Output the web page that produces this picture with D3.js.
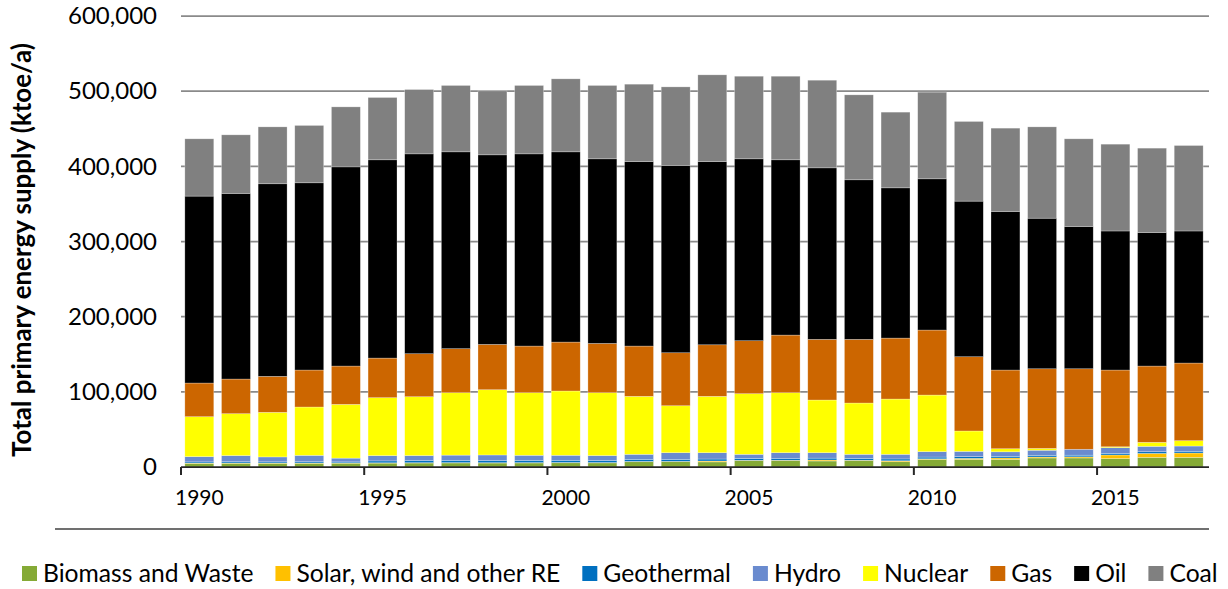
<!DOCTYPE html>
<html>
<head>
<meta charset="utf-8">
<script src="https://cdn.jsdelivr.net/npm/d3@7"></script>
<style>
  body { margin: 0; background: #fff; }
  text { font-family: Lato, "Open Sans", sans-serif; fill: #000; }
</style>
</head>
<body>
<div id="my_dataviz"></div>
<script>

// categories
var years = ["1990","1991","1992","1993","1994","1995","1996","1997","1998","1999",
             "2000","2001","2002","2003","2004","2005","2006","2007","2008","2009",
             "2010","2011","2012","2013","2014","2015","2016","2017"];

// series values, ktoe/a
var biomass = [4900,5000,5000,5000,5100,5200,5300,5400,5300,5400,
               5600,5500,7000,7100,6800,8400,8400,8000,8400,7000,
               10200,10200,10200,12000,12000,11100,12800,12800];
var solar = [400,400,400,400,400,400,400,400,400,400,
             400,400,400,400,1200,500,600,1300,600,1300,
             700,1300,1800,1300,1500,4900,5300,5800];
var geothermal = [1500,1600,1500,1600,1300,2500,3000,3000,3000,3000,
                  2900,2800,2800,2600,2600,2500,2500,2500,2400,2400,
                  2300,2300,2200,2200,2200,2200,2200,2300];
var hydro = [7000,8200,6500,8500,5000,7000,6500,7000,7300,6800,
             6700,6500,6700,8900,8400,5500,7500,7200,5500,6200,
             7200,7000,6000,6800,7900,7500,7200,7000];
var nuclear = [53100,55700,59300,64300,71500,77100,78300,83000,86800,83200,
               85500,83600,77100,62500,75000,80600,79800,70100,68200,73500,
               75300,27100,4100,2400,0,1200,5300,7100];
var gas = [44800,46100,47900,49200,51000,52700,57200,58600,60300,62100,
           65100,65600,66900,70500,68600,70500,76700,80700,84700,81100,
           86500,98800,104700,106000,107100,102100,101500,103300];
var oil = [248700,247000,256200,249100,265000,263800,265900,261900,252200,255700,
           253100,245600,245500,249200,243800,242000,233200,228200,212300,199900,
           201200,207000,211000,200300,189300,185000,177700,175700];
var coal = [76200,77900,75700,76300,79800,82900,85600,88300,85100,91000,
            97100,97600,102900,104500,115300,109900,111200,116600,113000,100700,
            115300,106000,110800,121500,116600,115500,112200,113700];

var seriesNames = ["Biomass and Waste","Solar, wind and other RE","Geothermal","Hydro","Nuclear","Gas","Oil","Coal"];
var seriesValues = [biomass, solar, geothermal, hydro, nuclear, gas, oil, coal];
var seriesColors = ["#85aa36","#ffc000","#0070c0","#6a8bcf","#ffff00","#cc6600","#000000","#808080"];

// tick labels
var yTicks = [0,100000,200000,300000,400000,500000,600000];
var xLabelYears = ["1990","1995","2000","2005","2010","2015"];

var W = 1228, H = 589;

var svg = d3.select("#my_dataviz")
  .append("svg")
  .attr("width", W)
  .attr("height", H);

// build rows for the stack
var rows = years.map(function(yr, i) {
  var r = {year: yr};
  seriesNames.forEach(function(s, j) { r[s] = seriesValues[j][i]; });
  return r;
});
var stacked = d3.stack().keys(seriesNames)(rows);

var x = d3.scaleBand()
  .domain(years)
  .range([181, 1207])
  .paddingInner(0.21)
  .paddingOuter(0.105);

var y = d3.scaleLinear()
  .domain([0, 600000])
  .range([467, 16]);

// gridlines
svg.append("g")
  .selectAll("line")
  .data(yTicks.filter(function(d) { return d > 0; }))
  .enter()
  .append("line")
  .attr("x1", 181)
  .attr("x2", 1209)
  .attr("y1", function(d) { return y(d); })
  .attr("y2", function(d) { return y(d); })
  .style("stroke", "#8a8a8a")
  .style("stroke-width", 1.75);

// y axis labels
var yAxis = svg.append("g")
  .attr("transform", "translate(157,0)")
  .call(d3.axisLeft(y).tickValues(yTicks).tickSize(0).tickPadding(0)
        .tickFormat(d3.format(",")));
yAxis.select(".domain").remove();
yAxis.selectAll("text")
  .style("font-size", "24px")
  .attr("fill", "#000");

// bars
var step = x.step();
svg.append("g")
  .selectAll("g")
  .data(stacked)
  .enter()
  .append("g")
  .style("fill", function(d, i) { return seriesColors[i]; })
  .selectAll("rect")
  .data(function(d) { return d; })
  .enter()
  .append("rect")
  .attr("x", function(d) { return x(d.data.year); })
  .attr("width", x.bandwidth())
  .attr("y", function(d) { return y(d[1]); })
  .attr("height", function(d) { return y(d[0]) - y(d[1]); })
  .style("stroke", "#fff")
  .style("stroke-opacity", 0.45)
  .style("stroke-width", 0.6);

// x axis line + ticks every 5 years (at category boundaries)
var gap = step * x.paddingInner();
var xAxis = svg.append("g");
xAxis.append("line")
  .attr("x1", 181).attr("x2", 1209)
  .attr("y1", 467).attr("y2", 467)
  .style("stroke", "#262626")
  .style("stroke-width", 1.75);
xAxis.selectAll(".tk")
  .data(xLabelYears)
  .enter()
  .append("line")
  .attr("class", "tk")
  .attr("x1", function(d) { return x(d) - gap / 2; })
  .attr("x2", function(d) { return x(d) - gap / 2; })
  .attr("y1", 467)
  .attr("y2", 475)
  .style("stroke", "#262626")
  .style("stroke-width", 2);
xAxis.selectAll(".lbl")
  .data(xLabelYears)
  .enter()
  .append("text")
  .attr("class", "lbl")
  .attr("x", function(d) { return x(d) + x.bandwidth() / 2; })
  .attr("y", 505)
  .attr("text-anchor", "middle")
  .style("font-size", "21px")
  .text(function(d) { return d; });

// separator line above the legend
svg.append("line")
  .attr("x1", 55).attr("x2", 1209)
  .attr("y1", 529).attr("y2", 529)
  .style("stroke", "#404040")
  .style("stroke-width", 1.5);

// y axis title, sized so it spans roughly the same height as the original
var title = svg.append("text")
  .attr("transform", "translate(31,250) rotate(-90)")
  .attr("text-anchor", "middle")
  .style("font-size", "20px")
  .style("font-weight", "bold")
  .text("Total primary energy supply (ktoe/a)");
var tLen = title.node().getComputedTextLength();
title.style("font-size", (20 * 414 / tLen) + "px");

// legend: measure the labels, pick a font size, lay out one after another
var legend = svg.append("g");
var labels = seriesNames.map(function(name) {
  return legend.append("text").attr("y", 582).style("font-size", "22px").text(name);
});
var textTotal = d3.sum(labels, function(t) { return t.node().getComputedTextLength(); });
var legendFont = 22 * (1196 - 8 * 21 - 7 * 22) / textTotal;
var cursor = 22;
labels.forEach(function(t, i) {
  t.style("font-size", legendFont + "px");
  legend.append("rect")
    .attr("x", cursor).attr("y", 566)
    .attr("width", 15).attr("height", 15)
    .style("fill", seriesColors[i]);
  t.attr("x", cursor + 21);
  cursor += 21 + t.node().getComputedTextLength() + 22;
});

</script>
</body>
</html>
